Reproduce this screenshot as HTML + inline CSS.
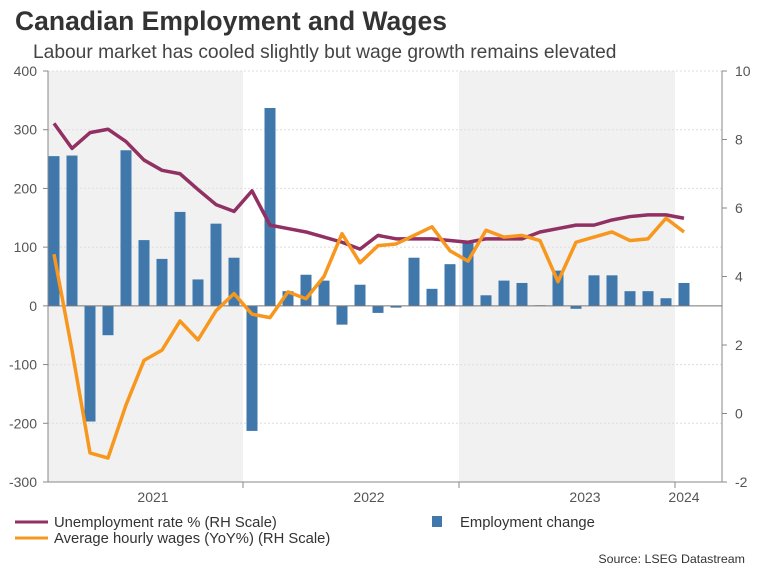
<!DOCTYPE html>
<html><head><meta charset="utf-8"><style>
body{margin:0;background:#fff;font-family:"Liberation Sans",Arial,sans-serif;}
svg text{font-family:"Liberation Sans",Arial,sans-serif;}
</style></head><body>
<svg id="chart" width="757" height="568">
<text x="15" y="30" font-size="26.5" font-weight="bold" fill="#333">Canadian Employment and Wages</text>
<text x="33" y="58" font-size="19.2" fill="#444">Labour market has cooled slightly but wage growth remains elevated</text>
<g id="plot"></g>
<line x1="15" y1="522" x2="48" y2="522" stroke="#913062" stroke-width="3"/>
<text x="54" y="527" font-size="14.8" fill="#333">Unemployment rate % (RH Scale)</text>
<rect x="432" y="516" width="10" height="11" fill="#4178ab"/>
<text x="460" y="527" font-size="14.8" fill="#333">Employment change</text>
<line x1="15" y1="538" x2="48" y2="538" stroke="#f7971e" stroke-width="3"/>
<text x="54" y="543" font-size="14.8" fill="#333">Average hourly wages (YoY%) (RH Scale)</text>
<text x="745" y="563" font-size="12.4" fill="#333" text-anchor="end">Source: LSEG Datastream</text>
</svg>
<script>
const employment=[255,256,-197,-50,265,112,80,160,45,140,82,-213,337,25,53,43,-32,36,-12,-3,82,29,71,107,18,43,39,1,60,-5,52,52,25,25,13,39];
const unemployment=[8.47,7.74,8.2,8.3,7.94,7.4,7.1,7.0,6.54,6.1,5.9,6.5,5.5,5.4,5.3,5.15,5.0,4.8,5.2,5.1,5.1,5.1,5.05,5.0,5.1,5.1,5.1,5.3,5.4,5.5,5.5,5.65,5.75,5.8,5.8,5.7];
const wages=[4.65,1.85,-1.15,-1.3,0.25,1.55,1.85,2.7,2.15,3.0,3.5,2.9,2.8,3.55,3.35,4.0,5.25,4.4,4.9,4.95,5.2,5.45,4.75,4.45,5.35,5.15,5.2,5.05,3.85,5.0,5.15,5.3,5.05,5.1,5.7,5.3];
const leftTicks=[400,300,200,100,0,-100,-200,-300];
const rightTicks=[10,8,6,4,2,0,-2];
const yearLabels=["2021","2022","2023","2024"];
const yearLabelMonth=[5.5,17.5,29.5,35];
const shadeMonths=[[-0.5,10.5],[22.5,34.5]];
const yearTickMonths=[10.5,22.5,34.5];

const L=48,R=722,T=71,B=482;
const x=i=>54+18*i;
const yL=v=>T+(400-v)*(B-T)/700;
const yR=v=>T+(10-v)*(B-T)/12;
const NS="http://www.w3.org/2000/svg";
const g=document.getElementById('plot');
function mk(tag,attrs,parent){const e=document.createElementNS(NS,tag);for(const k in attrs)e.setAttribute(k,attrs[k]);(parent||g).appendChild(e);return e;}
shadeMonths.forEach(s=>{
  const r=mk('rect',{x:Math.max(L,x(s[0])),y:T,width:x(s[1])-Math.max(L,x(s[0])),height:B-T,fill:'#f1f1f1'});
  
  
});
leftTicks.forEach(v=>{
  const ln=mk('line',{x1:L,x2:R,y1:yL(v),y2:yL(v),stroke:'#ddd','stroke-dasharray':'2,2'});
  
  
  const t=mk('text',{x:37,y:yL(v)+5,'font-size':14,fill:'#555','text-anchor':'end'});t.textContent=v;
  
  
  mk('line',{x1:L-5,x2:L,y1:yL(v),y2:yL(v),stroke:'#888'});
});
rightTicks.forEach(v=>{
  const t=mk('text',{x:735,y:yR(v)+5,'font-size':14,fill:'#555'});t.textContent=v;
  
  
  mk('line',{x1:R,x2:R+5,y1:yR(v),y2:yR(v),stroke:'#888'});
});
mk('line',{x1:L,x2:L,y1:T,y2:B,stroke:'#888'});
mk('line',{x1:R,x2:R,y1:T,y2:B,stroke:'#888'});
mk('line',{x1:L,x2:R,y1:B,y2:B,stroke:'#888'});
yearTickMonths.forEach(m=>mk('line',{x1:x(m),x2:x(m),y1:B,y2:B+6,stroke:'#888'}));
yearLabels.forEach((s,i)=>{
  const t=mk('text',{x:x(yearLabelMonth[i]),y:502,'font-size':14,fill:'#555','text-anchor':'middle'});t.textContent=s;
  
  
});
employment.forEach((v,i)=>{
  const y0=yL(0),y1=yL(v);
  const r=mk('rect',{x:x(i)-5.5,y:Math.min(y0,y1),width:11,height:Math.max(0.5,Math.abs(y1-y0)),fill:'#4178ab'});
  
  
});
mk('line',{x1:L,x2:R,y1:yL(0),y2:yL(0),stroke:'#777'});
[[unemployment,'#913062','unemployment-line'],[wages,'#f7971e','wages-line']].forEach(([d,c,n])=>{
  const p=mk('polyline',{points:d.map((v,i)=>x(i)+','+yR(v)).join(' '),fill:'none',stroke:c,'stroke-width':3.5,'stroke-linejoin':'round'});
  
  
});
</script>
</body></html>
